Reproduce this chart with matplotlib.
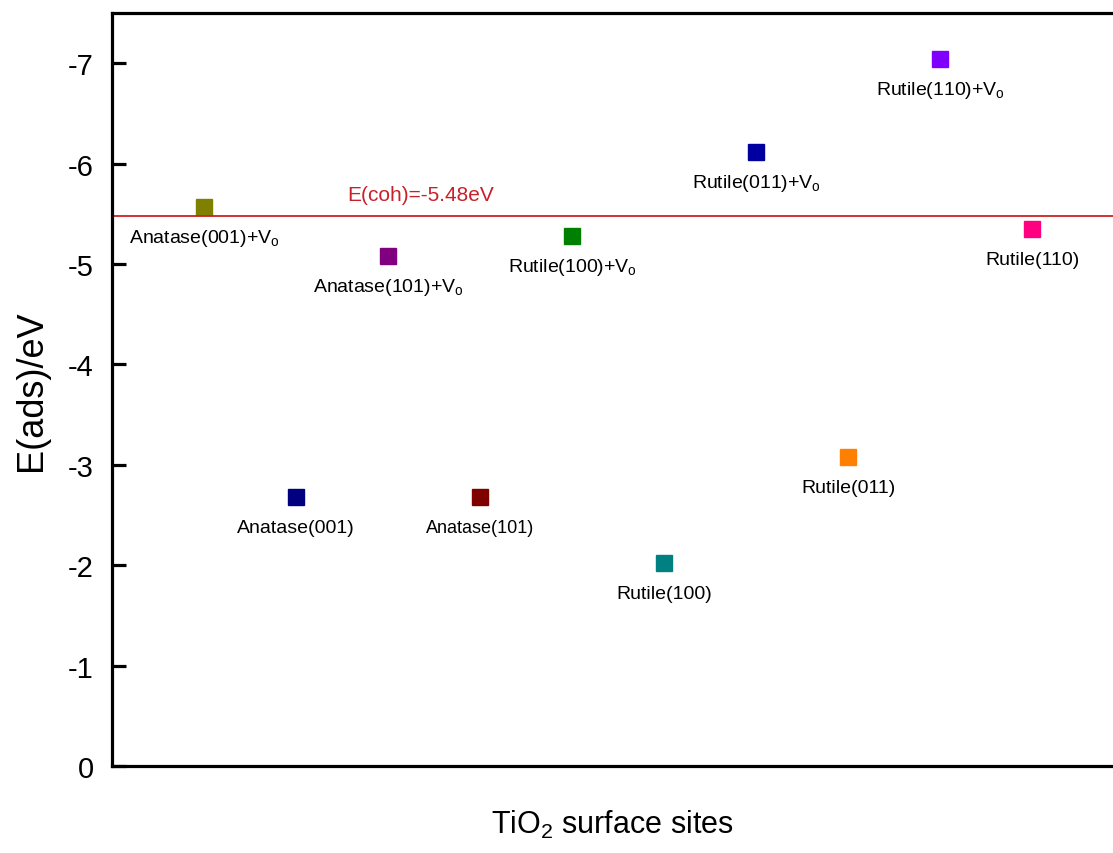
import matplotlib.pyplot as plt

plt.rcParams['font.family'] = ['Liberation Sans', 'DejaVu Sans']
plt.rcParams['mathtext.fontset'] = 'custom'
plt.rcParams['mathtext.rm'] = 'Liberation Sans'
plt.rcParams['axes.unicode_minus'] = False

# adsorption energies
sites = ["Anatase(001)+V$_\\mathregular{o}$", "Anatase(001)",
         "Anatase(101)+V$_\\mathregular{o}$", "Anatase(101)",
         "Rutile(100)+V$_\\mathregular{o}$", "Rutile(100)",
         "Rutile(011)+V$_\\mathregular{o}$", "Rutile(011)",
         "Rutile(110)+V$_\\mathregular{o}$", "Rutile(110)"]
e_ads = [-5.57, -2.68, -5.08, -2.68, -5.28, -2.02, -6.12, -3.08, -7.04, -5.35]
colors = ["#808000", "#000080", "#800080", "#800000", "#008000",
          "#008080", "#0000A0", "#FF8000", "#8000FF", "#FF0080"]
e_coh = -5.48

fig = plt.figure(figsize=(11.13, 8.54), dpi=100)
ax = fig.add_axes([0.1006, 0.1019, 0.8994, 0.8817])

xs = range(1, len(sites) + 1)
for x, y, c, lab in zip(xs, e_ads, colors, sites):
    ax.plot(x, y, marker='s', ms=11, color=c, mec=c, ls='none')
    fs = 13 if lab == "Anatase(101)" else 14
    ax.annotate(lab, (x, y), xytext=(0, -22), textcoords='offset points',
                ha='center', va='center', fontsize=fs)

ax.axhline(e_coh, color='#d02020', lw=1.3)
ax.annotate("E(coh)=-5.48eV", (3.35, e_coh), xytext=(0, 15),
            textcoords='offset points', ha='center', va='center',
            fontsize=15, color='#c8202a')

ax.set_xlim(0, 10.88)
ax.set_ylim(0, -7.5)
ax.set_yticks(range(-7, 1))
ax.set_yticklabels([str(v) for v in range(-7, 1)])
ax.set_xticks([])
ax.spines['right'].set_visible(False)
for s in ['left', 'bottom', 'top']:
    ax.spines[s].set_linewidth(2.3)
ax.tick_params(axis='y', direction='in', length=10, width=2.3, labelsize=21, pad=13)

ax.set_ylabel("E(ads)/eV", fontsize=26, labelpad=14)
ax.set_xlabel("TiO$_\\mathregular{2}$ surface sites", fontsize=22, labelpad=30)

fig.savefig("out.png", dpi=100)
